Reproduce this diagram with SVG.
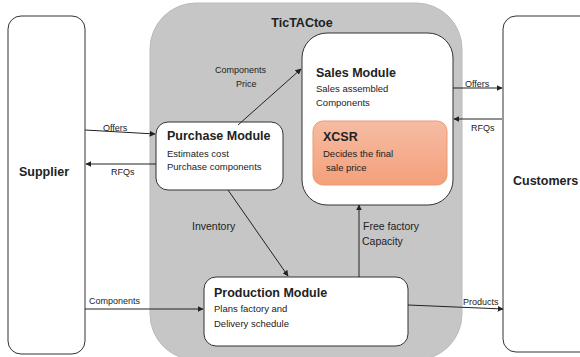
<svg xmlns="http://www.w3.org/2000/svg" width="580" height="357" viewBox="0 0 580 357">
<style>
.box{fill:#fff;stroke:#333;stroke-width:1}
.t{font-family:"Liberation Sans",Arial,sans-serif;fill:#222}
.b{font-weight:bold;font-size:12.5px}
.s{font-size:9.5px}
.l{font-size:9px}
.m{font-size:10.5px}
.c{stroke:#222;stroke-width:1;fill:none;marker-end:url(#ah)}
</style>
<defs>
<marker id="ah" viewBox="0 0 10 10" refX="9" refY="5" markerWidth="6" markerHeight="6" orient="auto" markerUnits="userSpaceOnUse">
<path d="M0,0 L10,5 L0,10 z" fill="#222"/>
</marker>
<linearGradient id="og" x1="0" y1="0" x2="0" y2="1">
<stop offset="0" stop-color="#f6bca3"/>
<stop offset="1" stop-color="#f4a07b"/>
</linearGradient>
</defs>
<rect width="580" height="357" fill="#fff"/>
<g id="tictactoe">
<rect x="150" y="3" width="312" height="357" rx="46" fill="#c6c6c6" stroke="#bbb"/>
<text class="t b" x="302" y="27" text-anchor="middle">TicTACtoe</text>
</g>
<g id="supplier">
<rect class="box" x="8" y="16" width="77" height="338" rx="13"/>
<text class="t b" x="19" y="176">Supplier</text>
</g>
<g id="customers">
<rect class="box" x="503" y="16" width="90" height="336" rx="13"/>
<text class="t b" x="513" y="185">Customers</text>
</g>
<g id="sales">
<rect class="box" x="302" y="33" width="151" height="172" rx="25"/>
<text class="t b" x="316" y="77">Sales Module</text>
<text class="t s" x="316" y="92">Sales assembled</text>
<text class="t s" x="316" y="106">Components</text>
</g>
<g id="xcsr">
<rect x="313" y="121" width="134" height="64" rx="10" fill="url(#og)" stroke="#eb9b72"/>
<text class="t b" x="323" y="141">XCSR</text>
<text class="t s" x="323" y="157">Decides the final</text>
<text class="t s" x="326" y="171">sale price</text>
</g>
<g id="purchase">
<rect class="box" x="156" y="122" width="127" height="68" rx="12"/>
<text class="t b" x="167" y="140">Purchase Module</text>
<text class="t s" x="167" y="157">Estimates cost</text>
<text class="t s" x="167" y="170">Purchase components</text>
</g>
<g id="production">
<rect class="box" x="204" y="277" width="204" height="69" rx="12"/>
<text class="t b" x="214" y="297">Production Module</text>
<text class="t s" x="214" y="312">Plans factory and</text>
<text class="t s" x="214" y="327">Delivery schedule</text>
</g>
<g id="connectors">
<path class="c" d="M85,130 L155,134"/>
<path class="c" d="M156,164 L86,164"/>
<path class="c" d="M238,125 L301,69"/>
<path class="c" d="M453,88 L502,88"/>
<path class="c" d="M502,119 L454,119"/>
<path class="c" d="M228,190 L288,276"/>
<path class="c" d="M359,277 L359,205"/>
<path class="c" d="M85,309 L203,309"/>
<path class="c" d="M408,305 L503,309"/>
<text class="t l" x="103" y="131">Offers</text>
<text class="t l" x="111" y="175">RFQs</text>
<text class="t l" x="215" y="73">Components</text>
<text class="t l" x="236" y="87">Price</text>
<text class="t l" x="465" y="87">Offers</text>
<text class="t l" x="471" y="131">RFQs</text>
<text class="t m" x="192" y="230">Inventory</text>
<text class="t m" x="363" y="230">Free factory</text>
<text class="t m" x="362" y="245">Capacity</text>
<text class="t l" x="89" y="304">Components</text>
<text class="t l" x="463" y="305">Products</text>
</g>
</svg>
